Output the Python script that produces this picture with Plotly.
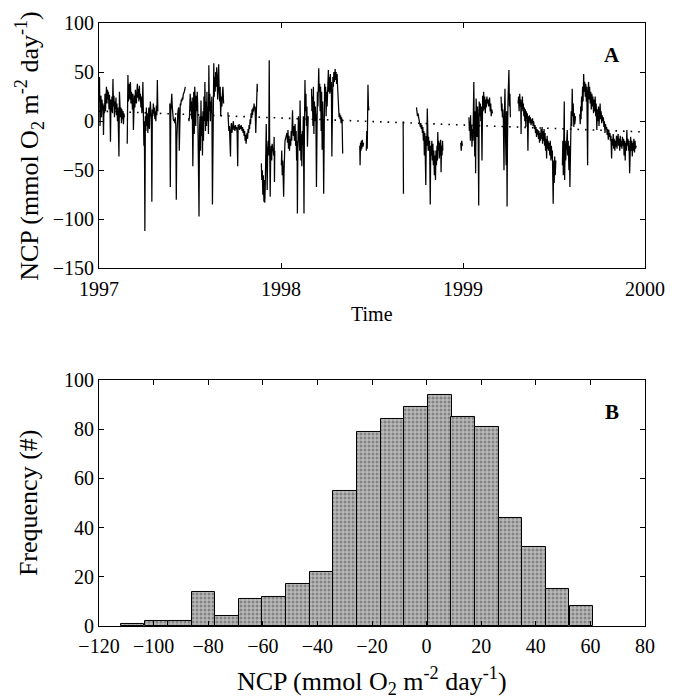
import plotly.graph_objects as go

# ---------------- Panel A data: daily NCP (day since 1997-01-01, value) ----------------
seg01 = [(0,20),(1,45),(2,-5),(3,15),(4,26),(5,4),(6,22),(7,12),(8,18),(9,-14),(10,16),(11,8),(12,28),(13,10),
         (14,24),(15,35),(16,18),(17,32),(18,22),(19,30),(20,12),(21,27),(22,15),(23,-21),(24,22),(25,10),(26,25),
         (27,8),(28,43),(29,15),(30,26),(31,4),(32,20),(33,12),(34,24),(35,6),(36,18),(37,0),(38,14),(39,-5),
         (40,-36),(41,30),(42,10),(43,4),(44,14),(45,-2),(46,12),(47,2),(48,10),(49,-3),(50,8),(51,4)]
seg02 = [(56.6,-23),(58,47),(59,20),(60,30),(61,38),(62,22),(63,40),(64,18),(65,30),(66,25),(67,12),(68,28),(69,-9),
         (70,20),(71,26),(72,14),(73,32),(74,22),(75,18),(76,30),(77,38),(78,24),(79,33),(80,20),(81,36),(82,22),
         (83,28),(84,14),(85,25),(86,8),(87,16),(88,40),(89,10),(90,-25),(91,0),(92,-112),(93,5),(94,-10),(95,14),
         (96,-5),(97,8),(98,-12),(99,4),(100,14),(101,-8),(102,6),(103,20),(104,10),(105,2),(106,-82),(107,12),
         (108,5),(109,18),(110,8),(111,14),(112,2),(113,10),(114,0),(115,16),(116,6),(117,42),(118,10)]
seg03 = [(142,18),(143,-67),(144,10),(145,22),(146,28),(147,14),(148,4),(149,2),(150,0),(151,2),(152,-2),(153,4),
         (154,-5),(155,-80),(156,-20),(157,4),(158,8),(159,12),(160,14),(161,-30),(162,10),(163,18),(164,16),
         (165,22),(166,20),(167,24),(168,22),(169,27),(170,28),(171,30),(172,32),(173,35)]
seg04 = [(179.6,3),(180.5,0),(181.5,5),(182.9,28),(184,10),(185,20),(186,2),(187,24),(188.2,-46),(189,15),(190,30),
         (191,-13),(192,35),(193,20),(194,-5),(195,26),(196,10),(197,30),(198,15),(199,-20),(200.6,-97),(201.5,-10),
         (202.5,5),(203.5,-30),(204.5,21),(205.5,-15),(206.5,5),(207.5,-35),(208.5,10),(209.5,-20),(210.5,25),
         (211.5,0),(212.4,40),(213.5,-10),(214.5,20),(215.7,-5),(216.5,30),(217.5,0),(218.5,15),(219.5,-13),
         (220.3,57),(221.3,10),(222.3,28),(223.3,0),(224.3,20),(225.3,8),(226.3,25),(227.5,-85),(228.5,15),
         (229.5,30),(230.2,59),(231.1,25),(232.1,45),(233,30),(234,50),(235,35),(236,55),(237,40),(238,22),(239,45),
         (240,58),(241,30),(242,20),(243,35),(244,5),(245.3,25),(246.5,15),(247.5,28),(248.6,35),(249.9,18)]
seg05 = [(258.5,9),(259.5,2),(260.5,-10),(261.5,-5),(262.5,-16),(263.7,-36),(264.5,-8),(265.5,-2),(266.5,-12),
         (267.5,-4),(268.5,-6),(269.5,0),(270.5,-9),(271.6,-5),(272.5,-10),(273.5,-4),(274.9,-8),(276,-6),(277,-12),
         (278.2,-46),(279,-4),(280,-7),(281,-3),(282,-9),(283,-5),(284,-8),(285,-4),(286,-7),(287,-10),(288,-6),
         (289,-12),(290,-8),(291,-15),(292,-10),(293,-20),(294,-14),(295,-23),(296,-16),(297,-12),(298,-18),
         (299,-8),(300,-12),(301,-4),(302,-8),(303,2),(304,-3),(305,8),(306,4),(307,12),(308,6),(309,14),(310,10),
         (311,18),(312,12),(313,15),(314.4,-12),(315,10),(316,20),(317.2,38),(317.7,30)]
seg06 = [(325.6,-43),(326.5,-60),(327.5,-50),(328.5,-75),(329.5,-55),(330.8,-82),(331.5,-60),(332.5,-83),
         (333.5,-65),(334.5,-45),(335.4,-3),(336.3,-40),(337.3,-70),(338.3,-30),(339.4,-20),(340.4,-35),(341.4,62),
         (342.3,-25),(343.3,-77),(344.3,-35),(345.3,-25),(346.3,-40),(347.3,-23),(348.3,-30),(349.3,-28),
         (350.3,-35),(351.3,-16),(351.9,-62),(352.5,-30)]
seg07 = [(365.7,-45),(366.5,-30),(367.5,-55),(368.5,-40),(369.5,-60),(370.3,-77),(371.2,-50),(372,-35),(373,-20),
         (375,-16),(376.9,-12),(378,-22),(379,-9),(380,-28),(381,-15),(382,-30),(383.5,-18),(384.5,-25),
         (385.4,-10),(386.5,-20),(387.2,-5),(388.1,11),(389,-8),(390,-15),(391,-5),(392,-20),(393.3,-3),
         (394.3,-25),(395.3,-10),(396.3,-40),(397.2,-20),(397.9,-94),(398.8,-30),(399.9,5),(400.8,-20),
         (401.8,-8),(402.5,-30),(403.2,21),(404,-15),(405,-40),(406,-13),(406.8,-46),(407.8,-10),(408.8,-25),
         (409.8,5),(410.5,-20),(411.1,-94),(412,-5),(413.1,42),(414,10),(415,28),(416,-5),(417,15),(418,-26),
         (419.6,5)]
seg08 = [(426.2,33),(427,10),(428,25),(429,-5),(430,35),(431,-13),(432,20),(433,0),(434,15),(435,5),(436.1,-67),
         (437,10),(438,30),(439,15),(440.7,54),(441.5,30),(442.7,38),(443.5,10),(444.5,35),(445.5,-10),(446.5,30),
         (447.5,-29),(448.5,20),(449.5,-5),(450.6,-74),(451.5,10),(452.5,38),(453.5,20),(454.5,35),(455.5,5),
         (456.5,30),(457.5,15),(458.3,40),(459.1,25),(460,52),(461,30),(462,45),(463,28),(464,48),(465,30),(466,40),
         (467,-36),(468,25),(469,45),(470,35),(471,50),(472,40),(473.6,53),(474.5,42),(475.5,50),(476.5,38),
         (477.5,48),(478.5,35),(479.5,28),(480.5,15),(481.5,4),(482.5,8),(483.5,2),(484.5,6),(485.5,-2),(486.5,4),
         (487.5,0),(488.7,-33)]
seg09 = [(523,-25),(523.6,-45),(524.5,-22),(525.5,-30),(526.2,-20),(527,-28),(528,-19),(529.5,-26),(530.5,-22)]
seg10 = [(536.1,-30),(537,-10),(538,-28),(539.4,37),(540.4,15),(541.4,11)]
seg11 = [(610,0),(610.6,-74)]
seg12 = [(636.7,14),(637.7,10),(638.7,5),(639.7,8),(640.7,2),(641.7,4),(642.7,-1),(643.5,-3),(644.5,-6),
         (645.5,-2),(646.5,-8),(647.5,-4),(648.5,-12),(649.5,-6),(650.5,-20),(651.5,-10),(652.5,-35),(653.5,-12),
         (654.5,-30),(655.4,-65),(656.4,-15),(657.4,-25),(658.4,13),(659.3,-10),(660.2,-30),(661,-16),(662,-30),
         (663,-20),(664.3,-85),(665.3,-25),(666.3,-35),(667.5,-20),(668.5,-40),(669.6,-23),(670.5,-45),(671.5,-30),
         (672.5,-55),(673.5,-35),(674.8,-60),(675.8,-30),(676.8,-45),(677.8,-25),(678.8,-40),(679.4,-11),
         (680.4,-30),(681.4,-20),(682.4,-38),(683.4,-22),(684.4,-35),(685.2,-19),(686,-52),(687,-25),(688,-35),
         (689,-20),(689.5,-30)]
seg13 = [(725.5,-22),(726.5,-30),(727.5,-20),(728.8,-25)]
seg14 = [(741.9,4),(742.8,-10),(743.8,0),(744.8,-20),(745.2,6),(746,-15),(747,-5),(748,-26),(749,-8),(750,-20),
         (751,5),(751.7,40),(752.6,-10),(753.6,-36),(754.5,10),(755.3,-53),(756.3,23),(757.3,5),(758.3,-16),
         (759.2,15),(760.2,0),(761.5,-86),(762.5,20),(763.5,5),(764.8,18),(765.8,0),(766.8,15),(768.1,-40),
         (769.4,26),(770.4,10),(771.4,30),(772.4,12),(773.5,25),(774.7,8),(775.7,22),(776.7,14),(778,25),(779,18),
         (780,22),(781.3,15),(782.3,20),(783.3,24),(784.6,10),(785.6,18),(786.6,5),(787.6,12),(789.2,8)]
seg15 = [(806.3,25),(807.3,10),(808.3,18),(808.9,4),(809.9,12),(811,0),(812.2,-50),(813.2,10),(814.2,33),
         (815.5,-20),(816.5,-45),(817.5,10),(818.4,-87),(819.2,-20),(820.2,20),(821.1,40),(822.1,52),(823.1,15),
         (824.1,28),(825,4)]
seg16 = [(840.5,18),(841.5,25),(842.5,10),(843.8,28),(844.8,15),(845.8,22),(846.5,-13),(847.1,20),(848.1,12),
         (849.1,25),(850.1,10),(851,18),(852,5),(853,14),(854,0),(855,12),(856,-6),(857,10),(858,3),(859,8),
         (860.2,-30),(861.2,5),(862.2,0),(863.2,6),(864.2,-2),(865.2,4),(866.5,-4),(867.5,2),(868.5,-2),(869.5,3),
         (870.5,-5),(871.5,0),(872.5,-3),(873.4,-8),(874.4,-4),(875.4,-12),(876.4,-6),(877.4,-16),(878.4,-8),
         (879.4,-14),(880.4,-9),(881.4,-18),(882.4,-10),(883.4,-22),(884.4,-12),(885.4,-20),(886.6,-8),
         (887.6,-18),(888.6,-6),(889.6,-23),(890.6,-10),(891.6,-20),(892.6,-8),(893.6,-25),(894.6,-12),
         (895.6,-30),(896.6,-18),(897.7,-38),(898.7,-15),(899.7,-28),(900.7,-20),(901.7,-30),(903,-22),(904,-35),
         (905,-20),(906.3,-40),(907.3,-25),(908.3,-38),(909.2,-30),(910.9,-84),(911.9,-40),(912.9,-63),
         (913.9,-36),(915,-55),(916.2,-40)]
seg17 = [(929.3,-45),(930.2,-20),(931.2,-55),(932.2,-10),(933.1,20),(933.9,-60),(934.9,-20),(935.9,-40),
         (937,-30),(938,-15),(939.1,-9),(940,-35),(941,-20),(942.4,-50),(943.4,-25),(944.4,-67),(945.7,-20),
         (947,10),(948,-5),(949,33),(950,5),(951,18),(952.3,-6),(953.3,8),(954.3,-3),(955.6,5)]
seg18 = [(964.1,7),(965.1,-3),(966.1,15),(966.8,2),(967.8,25),(968.8,10),(969.8,35),(970.8,20),(972,48),(973,30),
         (974,40),(975.3,25),(976.3,38),(977.3,20),(978.3,35),(979.9,-45),(980.9,30),(981.9,40),(982.9,22),
         (983.9,35),(985.2,18),(986.2,30),(987.2,12),(988.5,28),(989.5,15),(990.5,25),(991.8,8),(992.8,22),
         (993.8,10),(995.1,25),(996.1,5),(997.1,18),(998.4,-9),(999.4,12),(1000.4,0),(1001.7,15),(1002.7,-5),
         (1003.7,8),(1005,18),(1006,2),(1007,10),(1008.2,-2),(1009.2,6),(1010.2,0),(1011.5,4),(1012.5,-6),
         (1013.5,0),(1014.8,-12),(1015.8,-3),(1016.8,-8),(1018.1,-6),(1019.1,-14),(1020.1,-8),(1021.4,-19),
         (1022.4,-10),(1023.4,-16),(1024.7,-12),(1025.7,-20),(1026.7,-15),(1028,-38),(1029,-18),(1030,-25),
         (1031.3,-13),(1032.3,-28),(1033.3,-18),(1034.6,-30),(1035.6,-20),(1036.6,-26),(1037.8,-15),(1038.8,-28),
         (1039.8,-20),(1041.1,-13),(1042.1,-25),(1043.1,-18),(1044.4,-30),(1045.4,-15),(1046.4,-26),(1047.7,-20),
         (1048.7,-28),(1049.7,-16),(1051,-25),(1052,-18),(1053,-35),(1054.3,-20),(1055.3,-40),(1056.3,-22),
         (1057.6,-30),(1058.6,-9),(1059.6,-25),(1060.9,-18),(1061.9,-30),(1062.9,-20),(1064.2,-53),(1065.2,-25),
         (1066.2,-16),(1067.5,-30),(1068.5,-20),(1069.5,-36),(1070.7,-22),(1071.7,-30),(1072.7,-18),(1074,-32),
         (1075,-20),(1076,-28),(1077.3,-25)]
segments = [seg01, seg02, seg03, seg04, seg05, seg06, seg07, seg08, seg09, seg10, seg11, seg12, seg13,
            seg14, seg15, seg16, seg17, seg18]

# dotted linear trend (start/end)
trend_days = [0, 1095]
trend_values = [10.3, -11.0]

year_ticks = [1997, 1998, 1999, 2000]

# ---------------- Panel B data: histogram ----------------
bin_centers = [-107.7, -99.0, -90.4, -81.7, -73.1, -64.4, -55.8, -47.1, -38.5, -29.8,
               -21.2, -12.5, -3.9, 4.8, 13.4, 22.1, 30.7, 39.4, 48.0, 56.7]
bin_counts = [1, 2, 2, 14, 4, 11, 12, 17, 22, 55, 79, 84, 89, 94, 85, 81, 44, 32, 15, 8]
bin_width = 8.65

# ---------------- build ----------------
xs, ys = [], []
for seg in segments:
    for d, v in seg:
        xs.append(1997 + d / 365.0)
        ys.append(v)
    xs.append(None)
    ys.append(None)

FONT = "Liberation Serif"
fig = go.Figure()
fig.add_trace(go.Scatter(x=[1997 + d / 365.0 for d in trend_days], y=trend_values, mode="lines",
                         line=dict(color="black", width=1.6, dash="1.6px,6px"),
                         xaxis="x", yaxis="y", showlegend=False, hoverinfo="skip"))
fig.add_trace(go.Scatter(x=xs, y=ys, mode="lines", line=dict(color="black", width=1.25),
                         connectgaps=False, xaxis="x", yaxis="y", showlegend=False))
fig.add_trace(go.Bar(x=bin_centers, y=bin_counts, width=bin_width,
                     marker=dict(color="#a8a8a8", line=dict(color="black", width=1),
                                 pattern=dict(shape=".", fgcolor="#4a4a4a", bgcolor="#bababa",
                                              size=4, solidity=0.45)),
                     xaxis="x2", yaxis="y2", showlegend=False))

axis_common = dict(showline=True, linecolor="black", linewidth=1, mirror="ticks", ticks="inside",
                   ticklen=5, tickcolor="black", tickwidth=1, showgrid=False, zeroline=False,
                   tickfont=dict(family=FONT, size=20, color="black"))

fig.update_layout(
    width=677, height=700,
    margin=dict(l=99, r=23, t=23, b=74),
    paper_bgcolor="white", plot_bgcolor="white",
    font=dict(family=FONT, color="black"),
    bargap=0,
    xaxis=dict(domain=[0, 1], range=[1997, 2000], tickvals=year_ticks,
               ticktext=[str(t) for t in year_ticks], anchor="y", ticklabelstandoff=3, **axis_common),
    yaxis=dict(domain=[0.593, 1], range=[-150, 100], tickvals=[-150, -100, -50, 0, 50, 100],
               anchor="x", **axis_common),
    xaxis2=dict(domain=[0, 1], range=[-120, 80], dtick=20, tick0=0, anchor="y2", ticklabelstandoff=2,
                **axis_common),
    yaxis2=dict(domain=[0, 0.408], range=[0, 100], dtick=20, tick0=0, anchor="x2", **axis_common),
)

ann = [
    dict(text="NCP (mmol O<sub>2</sub> m<sup>-2</sup> day<sup>-1</sup>)", x=-0.128, y=0.7965,
         textangle=-90, font=dict(size=26)),
    dict(text="Frequency (#)", x=-0.128, y=0.204, textangle=-90, font=dict(size=26)),
    dict(text="Time", x=0.5, y=0.517, font=dict(size=20)),
    dict(text="NCP (mmol O<sub>2</sub> m<sup>-2</sup> day<sup>-1</sup>)", x=0.5, y=-0.092, font=dict(size=26)),
    dict(text="<b>A</b>", x=0.939, y=0.947, font=dict(size=21)),
    dict(text="<b>B</b>", x=0.939, y=0.355, font=dict(size=21)),
]
for a in ann:
    a.update(xref="paper", yref="paper", showarrow=False, xanchor="center", yanchor="middle")
    a["font"] = dict(family=FONT, color="black", size=a["font"]["size"])
fig.update_layout(annotations=ann)

# remove the browser's default 8px body margin so the 677x700 figure fills the page exactly
fig.write_html("out.html", config={"displayModeBar": False},
               post_script="document.body.style.margin='0px';")
